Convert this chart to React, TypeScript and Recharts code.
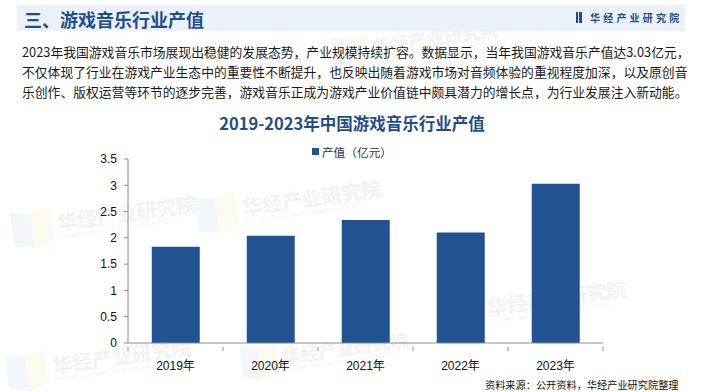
import React from "react";
import { BarChart, Bar, XAxis, YAxis, Legend } from "recharts";

const years = ["2019年", "2020年", "2021年", "2022年", "2023年"];
const outputValues = [1.83, 2.04, 2.34, 2.1, 3.03];
const yTicks = [0, 0.5, 1, 1.5, 2, 2.5, 3, 3.5];
const seriesName = "产值（亿元）";
const headerTitle = "三、游戏音乐行业产值";
const brandName = "华经产业研究院";
const chartTitle = "2019-2023年中国游戏音乐行业产值";
const paragraphLines = [
  "2023年我国游戏音乐市场展现出稳健的发展态势，产业规模持续扩容。数据显示，当年我国游戏音乐产值达3.03亿元，",
  "不仅体现了行业在游戏产业生态中的重要性不断提升，也反映出随着游戏市场对音频体验的重视程度加深，以及原创音",
  "乐创作、版权运营等环节的逐步完善，游戏音乐正成为游戏产业价值链中颇具潜力的增长点，为行业发展注入新动能。",
];
const sourceNote = "资料来源：公开资料，华经产业研究院整理";

const data = years.map((y, i) => ({ year: y, value: outputValues[i] }));

const BAR = "#215393";
const DARK = "#1F4E8C";
const AXIS = "#8c8c8c";
const CJK = '"Noto Sans CJK SC", "Noto Sans", sans-serif';
const ARIAL = '"Liberation Sans", Arial, "Noto Sans CJK SC", sans-serif';

const XTick = (props: any) => {
  const { x, y, payload, index, visibleTicksCount } = props;
  const half = payload && typeof payload.offset === "number" ? payload.offset : 47.5;
  const axisY = y - 4;
  return (
    <g>
      <line x1={x - half} y1={axisY} x2={x - half} y2={axisY + 4} stroke={AXIS} />
      {index === visibleTicksCount - 1 && (
        <line x1={x + half} y1={axisY} x2={x + half} y2={axisY + 4} stroke={AXIS} />
      )}
      <text x={x} y={axisY + 20} textAnchor="middle" fontSize={12} fill="#111" fontFamily={ARIAL} dominantBaseline="middle">
        {payload.value}
      </text>
    </g>
  );
};

const LegendContent = () => (
  <div style={{ display: "flex", justifyContent: "center", alignItems: "center", fontFamily: CJK, fontSize: 11.7, color: "#333" }}>
    <span style={{ display: "inline-block", width: 7, height: 7, background: BAR, marginRight: 3 }} />
    <span>{seriesName}</span>
  </div>
);

const Watermark = ({ x, y, scale = 1 }: { x: number; y: number; scale?: number }) => (
  <div
    style={{
      position: "absolute",
      left: x,
      top: y,
      width: 200,
      transform: `rotate(-8deg) scale(${scale})`,
      transformOrigin: "left top",
      pointerEvents: "none",
      display: "flex",
      alignItems: "center",
      whiteSpace: "nowrap",
      opacity: 0.8,
    }}
  >
    <div style={{ flex: "none", width: 20, height: 34, background: "#f1f5fb", transform: "skewY(12deg)" }} />
    <div style={{ flex: "none", width: 20, height: 34, background: "#fdf9ec", transform: "skewY(-12deg)", marginRight: 6 }} />
    <div style={{ flex: "none" }}>
      <div style={{ fontFamily: CJK, fontWeight: 700, fontSize: 20, color: "#efefef", lineHeight: "22px" }}>{brandName}</div>
      <div style={{ fontFamily: ARIAL, fontSize: 5, color: "#efefef", letterSpacing: 0.5 }}>HUAJING INDUSTRY RESEARCH INSTITUTE</div>
    </div>
  </div>
);

export default function App() {
  return (
    <div style={{ position: "absolute", left: 0, top: 0, width: 704, height: 392, background: "#fff", overflow: "hidden" }}>
      <Watermark x={330} y={40} scale={0.9} />
      <Watermark x={195} y={200} />
      <Watermark x={10} y={215} />
      <Watermark x={440} y={300} />
      <Watermark x={5} y={358} />
      <Watermark x={240} y={350} scale={0.9} />

      <div style={{ position: "absolute", left: 17, top: 5, width: 668, height: 26, background: "#EBF1F9" }} />
      <div style={{ position: "absolute", left: 24, top: 5, height: 28, lineHeight: "28px", fontFamily: CJK, fontWeight: 700, fontSize: 18, color: DARK }}>
        {headerTitle}
      </div>
      <div style={{ position: "absolute", left: 576, top: 11, display: "flex", alignItems: "center", height: 12 }}>
        <div style={{ width: 2, height: 11, background: DARK, marginRight: 1 }} />
        <div style={{ width: 3, height: 11, background: DARK, marginRight: 8 }} />
        <span style={{ fontFamily: CJK, fontWeight: 700, fontSize: 10, color: DARK, letterSpacing: 3.2 }}>{brandName}</span>
      </div>

      <div style={{ position: "absolute", left: 22, top: 42, fontFamily: CJK, fontSize: 12.8, color: "#1a1a1a", lineHeight: "20px", whiteSpace: "nowrap" }}>
        {paragraphLines.map((l, i) => (
          <div key={i}>{l}</div>
        ))}
      </div>

      <div style={{ position: "absolute", left: 0, top: 112, width: 704, textAlign: "center", fontFamily: CJK, fontWeight: 700, fontSize: 16.5, color: DARK, lineHeight: "22px" }}>
        {chartTitle}
      </div>

      <div style={{ position: "absolute", left: 0, top: 140 }}>
        <BarChart width={704} height={240} data={data} margin={{ top: 19, right: 101, bottom: 7, left: 0 }} barCategoryGap="25%">
          <Legend
            verticalAlign="middle"
            align="center"
            layout="horizontal"
            wrapperStyle={{ top: 3, left: 0, width: 704, height: 18 }}
            content={<LegendContent />}
          />
          <XAxis
            dataKey="year"
            stroke={AXIS}
            tickLine={false}
            tick={<XTick />}
            interval={0}
            height={30}
          />
          <YAxis
            width={128}
            domain={[0, 3.5]}
            ticks={yTicks}
            stroke={AXIS}
            tickSize={4}
            tickMargin={7}
            tick={{ fontSize: 12, fill: "#111", fontFamily: ARIAL }}
            interval={0}
          />
          <Bar dataKey="value" name={seriesName} fill={BAR} isAnimationActive={false} />
        </BarChart>
      </div>

      <div style={{ position: "absolute", left: 485, top: 377, fontFamily: CJK, fontSize: 10.2, color: "#111", whiteSpace: "nowrap", lineHeight: "16px" }}>
        {sourceNote}
      </div>
    </div>
  );
}
